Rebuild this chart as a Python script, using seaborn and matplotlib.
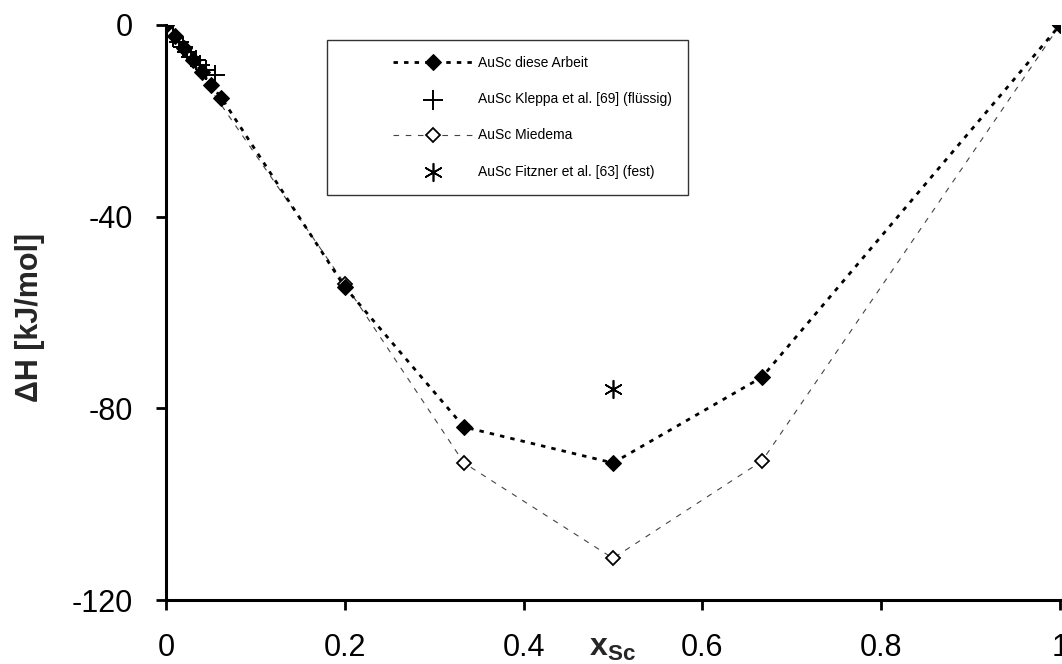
import matplotlib
matplotlib.use("Agg")
import matplotlib.pyplot as plt
import seaborn as sns
from matplotlib.legend_handler import HandlerLine2D, HandlerPathCollection
from matplotlib.lines import Line2D
from matplotlib.collections import PathCollection

# Data
x_arbeit = [0.0, 0.010, 0.020, 0.030, 0.040, 0.050, 0.062, 0.2, 1/3, 0.5, 2/3, 1.0]
y_arbeit = [0.0, -2.3, -4.8, -7.3, -9.8, -12.5, -15.2, -54.7, -83.9, -91.4, -73.5, 0.0]

x_kleppa = [0.008, 0.014, 0.019, 0.023, 0.028, 0.033, 0.038, 0.045, 0.055]
y_kleppa = [-2.6, -3.6, -4.6, -5.6, -6.6, -7.4, -8.4, -9.4, -10.5]

x_miedema = [0.0, 0.2, 1/3, 0.5, 2/3, 1.0]
y_miedema = [0.0, -54.0, -91.4, -111.3, -91.0, 0.0]

x_fitzner = [0.5]
y_fitzner = [-76.0]

xticks = [0, 0.2, 0.4, 0.6, 0.8, 1]
xticklabels = ["0", "0.2", "0.4", "0.6", "0.8", "1"]
yticks = [0, -40, -80, -120]
yticklabels = ["0", "-40", "-80", "-120"]

sns.set_style("ticks")
plt.rcParams['font.family'] = ['Liberation Sans', 'DejaVu Sans']
plt.rcParams['mathtext.fontset'] = 'custom'
plt.rcParams['mathtext.rm'] = 'Liberation Sans'
plt.rcParams['mathtext.bf'] = 'Liberation Sans:bold'
plt.rcParams['mathtext.it'] = 'Liberation Sans:italic'

fig = plt.figure(figsize=(10.62, 6.64), dpi=100)
ax = fig.add_axes([166/1062, 1 - 600/664, (1060 - 166)/1062, (600 - 25)/664])

sns.lineplot(x=x_miedema, y=y_miedema, ax=ax, sort=False, color="#444444",
             linewidth=0.8, linestyle=(0, (5, 6)), marker="D", markersize=7,
             markerfacecolor="white", markeredgecolor="black", markeredgewidth=1.3,
             label="AuSc Miedema", zorder=3)
sns.lineplot(x=x_arbeit, y=y_arbeit, ax=ax, sort=False, color="black",
             linewidth=2.0, linestyle=(0, (1.6, 2.2)), marker="D", markersize=8,
             markerfacecolor="black", markeredgecolor="black",
             label="AuSc diese Arbeit", zorder=4)
sns.scatterplot(x=x_kleppa, y=y_kleppa, ax=ax, marker="+", s=220, color="black",
                linewidth=1.4, label="AuSc Kleppa et al. [69] (flüssig)", zorder=5)
sns.scatterplot(x=x_fitzner, y=y_fitzner, ax=ax, marker=(6, 2, 0), s=160, color="black",
                linewidth=1.2, label="AuSc Fitzner et al. [63] (fest)", zorder=5)

ax.set_xlim(0, 1)
ax.set_ylim(-120, 0)
ax.set_xticks(xticks)
ax.set_xticklabels(xticklabels)
ax.set_yticks(yticks)
ax.set_yticklabels(yticklabels)
ax.tick_params(axis="both", labelsize=22, width=2, length=7, direction="out", pad=17, colors="black")
for s in ["top", "right"]:
    ax.spines[s].set_visible(False)
for s in ["left", "bottom"]:
    ax.spines[s].set_linewidth(2.2)
    ax.spines[s].set_color("black")
ax.set_xlabel("")
ax.set_ylabel("")

fig.text(30/1062, 1 - 317/664, "ΔH [kJ/mol]", rotation=90, fontsize=22,
         fontweight="bold", ha="center", va="center")
fig.text(612/1062, 1 - 648/664, r"$\mathbf{x_{Sc}}$", fontsize=23, ha="center", va="center")

handles, labels = ax.get_legend_handles_labels()
order = ["AuSc diese Arbeit", "AuSc Kleppa et al. [69] (flüssig)", "AuSc Miedema",
         "AuSc Fitzner et al. [63] (fest)"]
hmap = dict(zip(labels, handles))
xp = 3.6
leg = ax.legend([hmap[l] for l in order], order, loc="upper left",
                bbox_to_anchor=((327 - 166)/894, 1 - (40 - 25)/575),
                frameon=True, fancybox=False, edgecolor="black", fontsize=10,
                handlelength=9.36, labelspacing=1.6, borderpad=1.15, handletextpad=0.36,
                borderaxespad=0,
                handler_map={Line2D: HandlerLine2D(xpad=xp),
                             PathCollection: HandlerPathCollection(xpad=xp)})
leg.get_frame().set_linewidth(1.0)
for t in leg.get_texts():
    t.set_color("black")

fig.savefig("out.png", dpi=100)
